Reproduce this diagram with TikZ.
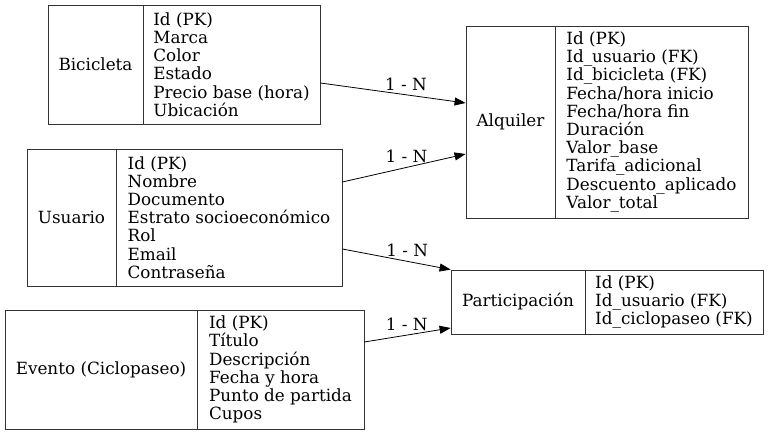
\documentclass[tikz,border=0pt]{standalone}
\usepackage{fontspec}
\setmainfont{DejaVu Serif}
\usetikzlibrary{arrows.meta, positioning}

\tikzset{
  cell/.style={draw=black!80, line width=0.8pt, inner sep=2pt, font=\fontsize{16.8}{18.2}\selectfont},
  fields/.style={cell, align=left},
  link/.style={-{Triangle[length=11pt,width=8pt]}, line width=0.8pt},
  lbl/.style={above, inner sep=4pt, font=\fontsize{16.8}{18}\selectfont}
}

\begin{document}
\begin{tikzpicture}[x=1pt,y=1pt]
\useasboundingbox (0,0) rectangle (768,435);

% Bicicleta
\node[cell, minimum width=95pt, minimum height=119pt] (bici) at (95.5,370.5) {Bicicleta};
\node[fields, minimum width=177pt, minimum height=119pt] (bicif) at (231.5,370.5) {Id (PK)\\Marca\\Color\\Estado\\Precio base (hora)\\Ubicación};

% Usuario
\node[cell, minimum width=89pt, minimum height=137pt] (usu) at (71.5,217.5) {Usuario};
\node[fields, minimum width=226pt, minimum height=137pt] (usuf) at (229,217.5) {Id (PK)\\Nombre\\Documento\\Estrato socioeconómico\\Rol\\Email\\Contraseña};

% Evento
\node[cell, minimum width=192pt, minimum height=119pt] (evt) at (101,65.5) {Evento (Ciclopaseo)};
\node[fields, minimum width=167pt, minimum height=119pt] (evtf) at (280.5,65.5) {Id (PK)\\Título\\Descripción\\Fecha y hora\\Punto de partida\\Cupos};

% Alquiler
\node[cell, minimum width=89pt, minimum height=192pt] (alq) at (510.5,313) {Alquiler};
\node[fields, minimum width=193pt, minimum height=192pt] (alqf) at (651.5,313) {Id (PK)\\Id\_usuario (FK)\\Id\_bicicleta (FK)\\Fecha/hora inicio\\Fecha/hora fin\\Duración\\Valor\_base\\Tarifa\_adicional\\Descuento\_aplicado\\Valor\_total};

% Participacion
\node[cell, minimum width=134pt, minimum height=64pt] (part) at (518,133) {Participación};
\node[fields, minimum width=178pt, minimum height=64pt] (partf) at (674,133) {Id (PK)\\Id\_usuario (FK)\\Id\_ciclopaseo (FK)};

% Relations
\draw[link] ([yshift=-18.5pt]bicif.east) -- node[lbl, pos=0.59] {1 - N} ([yshift=19pt]alq.west);
\draw[link] ([yshift=35.5pt]usuf.east) -- node[lbl, pos=0.52] {1 - N} ([yshift=-32pt]alq.west);
\draw[link] ([yshift=-31.5pt]usuf.east) -- node[lbl, pos=0.6] {1 - N} (part.north west);
\draw[link] ([yshift=27.5pt]evtf.east) -- node[lbl, pos=0.49] {1 - N} ([yshift=-26pt]part.west);

\end{tikzpicture}
\end{document}
